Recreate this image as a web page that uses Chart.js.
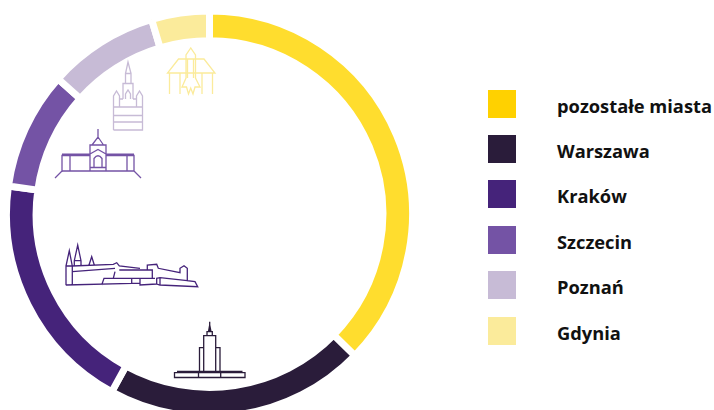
<!DOCTYPE html>
<html lang="pl">
<head>
<meta charset="utf-8">
<title>Miasta</title>
<script src="https://cdn.jsdelivr.net/npm/chart.js@4"></script>
<style>
  html, body { margin: 0; padding: 0; width: 714px; height: 410px; overflow: hidden; background: #fff; }
  #ring { position: absolute; left: 0; top: 0; width: 419px; height: 428px; }
  #legend { position: absolute; left: 488px; top: 0; font: 700 18.3px "Open Sans", sans-serif; color: #111; }
  .row { position: absolute; left: 0; height: 28px; white-space: nowrap; }
  .swatch { position: absolute; left: 0; top: 0; width: 28px; height: 28px; }
  .name { position: absolute; left: 69px; top: 2px; line-height: 28px; }
</style>
</head>
<body>
<div id="ring"><canvas id="chart"></canvas></div>
<div id="legend"></div>
<script>
const cities = ['pozostałe miasta', 'Warszawa', 'Kraków', 'Szczecin', 'Poznań', 'Gdynia'];
const shares = [37.3, 20.7, 19.2, 9.4, 8.8, 4.6];
const ringColors = ['#FFDD2E', '#2A1C3A', '#45237A', '#7453A5', '#C7BBD6', '#FBEB9B'];
const swatchColors = ['#FFD100', '#2A1C3A', '#45237A', '#7453A5', '#C7BBD6', '#FBEB9B'];

// Landmark outlines, one per city, as SVG path data.
const landmarks = [
  { color: '#2A1C3A', d: 'M174.5 372.7H245V377.5H174.5ZM177 371.5H242.5M198.5 372.7V377.5M220.7 372.7V377.5M199.5 372.7V347.7H203.7M220 372.7V347.7H215.7M203.7 372.7V335.7H215.7V372.7M207 335.7V331.7H212.3V335.7M209.7 331.7V321.7M208.5 331.7L209.7 325L211 331.7' },
  { color: '#45237A', d: 'M66 285.3V266H72.3M66 266L69.3 250.7L72.3 266V285.3M72.3 266H74.3V260.7L77.7 245L81 260.7V265.5M74.3 260.7H81M72.3 266L113.3 264.3L116.7 262.7L119.3 266L140 268.3M89 265L91.7 256.7L94.3 265M72.3 271.7L115 268.3M119.3 270H152.3V277.7M115 271.7L113.3 278.3M66 285L131.7 283.3H140M101.7 285L104 278.3H155M131.7 278.3V283.3M140 278.3V285L156.7 284M147.3 270V265L156.7 264.3L158.3 268.3L180 272.7V268.3L184 265.7L187.3 268.3V280.7L195 281.7L197.7 286.7L160 285L156.7 284V278.3L160 277.7L187.3 280.7M160 277.7V285' },
  { color: '#7453A5', d: 'M62 171V155.5H90M62 154.2H90M70 155.5V171M62 171H134M134 171V155.5H106M134 154.2H106M127 155.5V171M90 171V145H106V171M92 145L98 137L103.5 145M98 137V129M90 154L98 149.5L106 154M94 167V158.5Q98 153 102 158.5V167M62 171L55 178M134 171L141 178M90 167.5H106' },
  { color: '#C7BBD6', d: 'M113.5 130V96L116.5 91L119.5 96V107M136.5 107V96L139.5 91L142.5 96V130H113.5M113.5 107H142.5M113.5 115.5H142.5M113.5 122H142.5M119.5 99H123M133 99H136.5M119.5 99V107M136.5 99V107M123 99V83.5H133V99M125.5 99V94L128 90L130.5 94V99M125.5 83.5V73.5H131V83.5M125.5 73.5L128 62L131 73.5' },
  { color: '#FBEB9B', d: 'M167.5 73H215L204 59H178.5ZM169.5 73V94M180 73V94M202 73V94M212.5 73V94M190.7 48L186 55V78L182 87H186.5L188.5 94L190.7 88L193 94L195 87H200L195.5 78V55ZM187.5 59V78M193.5 59V78' }
];

const landmarkPlugin = {
  id: 'landmarks',
  afterDatasetsDraw(chart) {
    const ctx = chart.ctx;
    ctx.save();
    ctx.lineWidth = 1.3;
    landmarks.forEach(item => {
      ctx.strokeStyle = item.color;
      ctx.stroke(new Path2D(item.d));
    });
    ctx.restore();
  }
};

new Chart(document.getElementById('chart'), {
  type: 'doughnut',
  data: {
    labels: cities,
    datasets: [{
      data: shares,
      backgroundColor: ringColors,
      borderColor: '#ffffff',
      borderWidth: 7
    }]
  },
  options: {
    responsive: true,
    maintainAspectRatio: false,
    animation: false,
    radius: 203,
    cutout: '85.4%',
    layout: { padding: 0 },
    plugins: { legend: { display: false }, tooltip: { enabled: false } }
  },
  plugins: [landmarkPlugin]
});

// Legend rows on the right.
const rowTops = [90, 135, 180, 226, 271, 317];
const legend = document.getElementById('legend');
cities.forEach((city, i) => {
  const row = document.createElement('div');
  row.className = 'row';
  row.style.top = rowTops[i] + 'px';
  const swatch = document.createElement('div');
  swatch.className = 'swatch';
  swatch.style.background = swatchColors[i];
  const name = document.createElement('div');
  name.className = 'name';
  name.textContent = city;
  row.append(swatch, name);
  legend.append(row);
});
</script>
</body>
</html>
